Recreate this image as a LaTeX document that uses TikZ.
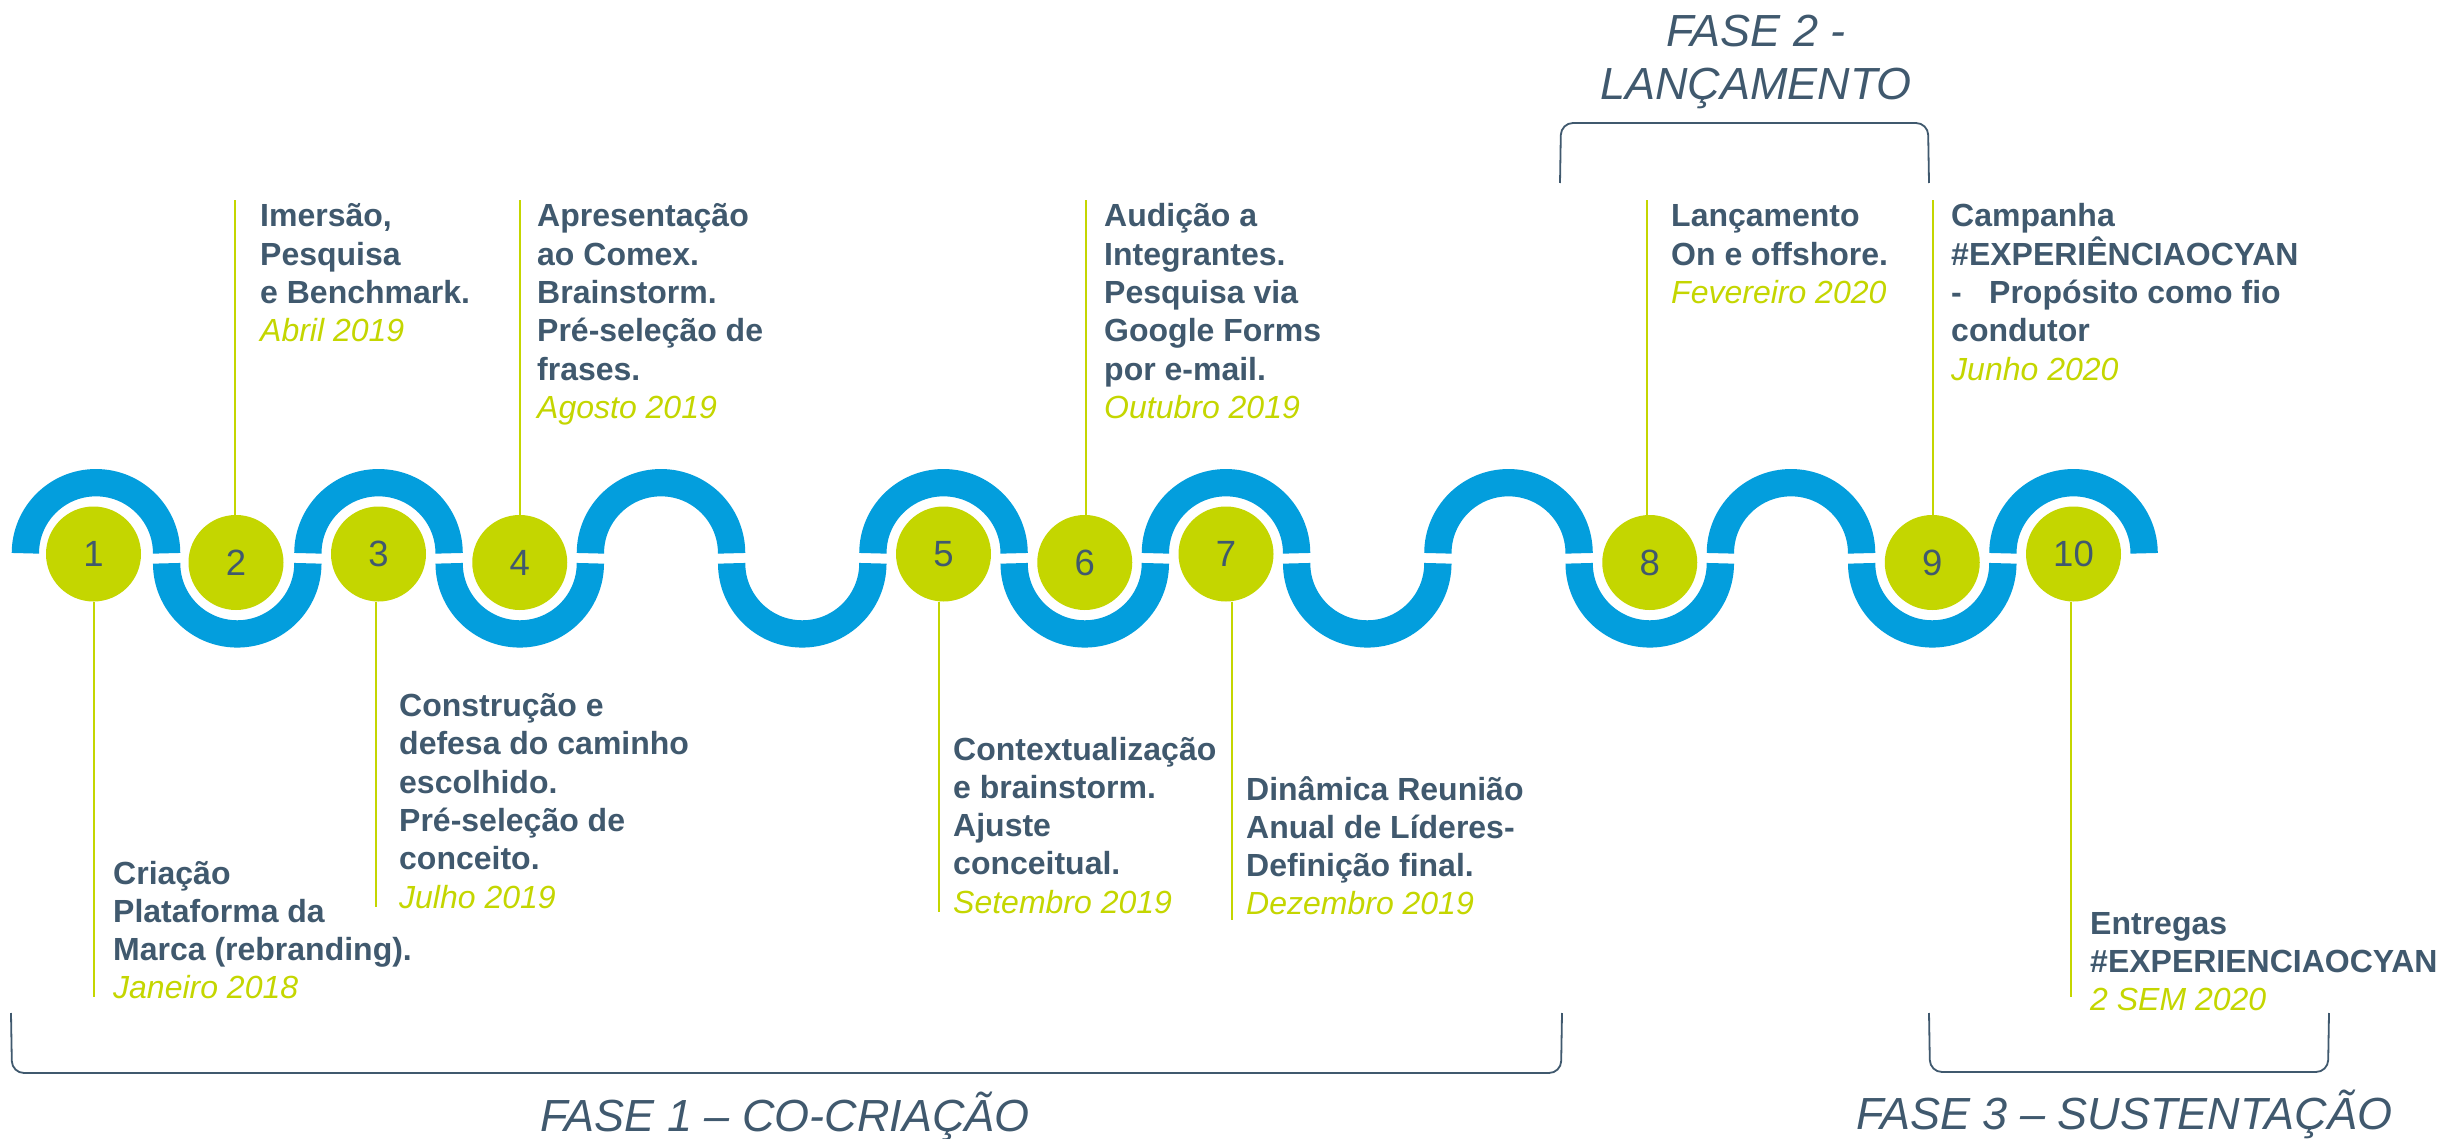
\documentclass[tikz,border=0pt]{standalone}
\usepackage{fontspec}
\setmainfont{Liberation Sans}
\newfontfamily\numfont{Liberation Sans}
\definecolor{wblue}{RGB}{3,158,221}
\definecolor{lime}{RGB}{196,214,0}
\definecolor{slate}{RGB}{64,89,110}
\newcommand{\blk}[1]{\begin{tabular}[t]{@{}l@{}}#1\end{tabular}}
\newcommand{\dt}[1]{\textcolor{lime}{\mdseries\itshape #1}}
\tikzset{
  wave/.style={draw=wblue, line width=27.3pt, line cap=butt},
  dot/.style={circle, fill=lime, minimum size=95pt, inner sep=0pt, text=slate, font=\numfont\fontsize{36.5}{40}\selectfont},
  stem/.style={draw=lime, line width=2.6pt},
  info/.style={anchor=base west, inner sep=0pt, text=slate, font=\fontsize{32}{38.3}\selectfont\bfseries},
  phase/.style={anchor=base, inner sep=0pt, text=slate, font=\fontsize{45}{53}\selectfont\itshape},
  brk/.style={draw=slate, line width=1.8pt, rounded corners=12pt}
}
\begin{document}
\begin{tikzpicture}[x=1pt,y=1pt]
\fill[white] (0,0) rectangle (2442,-1139);
\useasboundingbox (0,0) rectangle (2442,-1139);
% wave
\foreach \i in {0,2,...,14}
  \draw[wave] ({96+\i*141.25-70.625},-553.3) arc[start angle=180,end angle=0,radius=70.625];
\foreach \i in {1,3,...,13}
  \draw[wave] ({96+\i*141.25-70.625},-563.3) arc[start angle=180,end angle=360,radius=70.625];
% circles
\node[dot] (c1) at (93.5,-554) {1};
\node[dot] (c2) at (236,-562.5) {2};
\node[dot] (c3) at (378.5,-554) {3};
\node[dot] (c4) at (519.75,-562.5) {4};
\node[dot] (c5) at (943.5,-554) {5};
\node[dot] (c6) at (1084.75,-562.5) {6};
\node[dot] (c7) at (1226,-554) {7};
\node[dot] (c8) at (1649.75,-562.5) {8};
\node[dot] (c9) at (1932.25,-562.5) {9};
\node[dot] (c10) at (2073.5,-554) {10};
% stem ends
\coordinate (t1) at (94,-997);
\coordinate (t2) at (235,-200);
\coordinate (t3) at (376,-907);
\coordinate (t4) at (520,-200);
\coordinate (t5) at (939,-912);
\coordinate (t6) at (1086,-200);
\coordinate (t7) at (1232,-920);
\coordinate (t8) at (1647,-200);
\coordinate (t9) at (1933,-200);
\coordinate (t10) at (2071,-997);
\foreach \k in {2,4,6,8,9}
  \draw[stem] (c\k.north -| t\k) -- (t\k);
\foreach \k in {1,3,5,7,10}
  \draw[stem] (c\k.south -| t\k) -- (t\k);
% texts
\node[info] (x1) at (113,-884) {\blk{Criação\\Plataforma da\\Marca (rebranding).\\\dt{Janeiro 2018}}};
\node[info] (x2) at (260,-227) {\blk{Imersão,\\Pesquisa\\e Benchmark.\\\dt{Abril 2019}}};
\node[info] (x3) at (399,-716.5) {\blk{Construção e\\defesa do caminho\\escolhido.\\Pré-seleção de\\conceito.\\\dt{Julho 2019}}};
\node[info] (x4) at (537,-227) {\blk{Apresentação\\ao Comex.\\Brainstorm.\\Pré-seleção de\\frases.\\\dt{Agosto 2019}}};
\node[info] (x5) at (953,-760) {\blk{Contextualização\\e brainstorm.\\Ajuste\\conceitual.\\\dt{Setembro 2019}}};
\node[info] (x6) at (1104,-227) {\blk{Audição a\\Integrantes.\\Pesquisa via\\Google Forms\\por e-mail.\\\dt{Outubro 2019}}};
\node[info] (x7) at (1246,-800) {\blk{Dinâmica Reunião\\Anual de Líderes-\\Definição final.\\\dt{Dezembro 2019}}};
\node[info] (x8) at (1671,-227) {\blk{Lançamento\\On e offshore.\\\dt{Fevereiro 2020}}};
\node[info] (x9) at (1951,-227) {\blk{Campanha\\\smash{\#EXPERIÊNCIAOCYAN}\\\makebox[38pt][l]{-}Propósito como fio\\condutor\\\dt{Junho 2020}}};
\node[info] (x10) at (2090,-934) {\blk{Entregas\\\#EXPERIENCIAOCYAN\\\dt{2 SEM 2020}}};
% phases
\node[phase] (p1) at (785,-1131) {FASE 1 – CO-CRIAÇÃO};
\node[phase] (p2) at (1756,-47) {\begin{tabular}[t]{@{}c@{}}FASE 2 -\\LANÇAMENTO\end{tabular}};
\node[phase] (p3) at (2124,-1129) {FASE 3 – SUSTENTAÇÃO};
\draw[brk] (11,-1013) -- (12,-1073) -- (1561,-1073) -- (1562,-1013);
\draw[brk] (1560,-183) -- (1561,-123) -- (1928,-123) -- (1929,-183);
\draw[brk] (1929,-1013) -- (1930,-1072) -- (2328,-1072) -- (2329,-1013);
\end{tikzpicture}
\end{document}
